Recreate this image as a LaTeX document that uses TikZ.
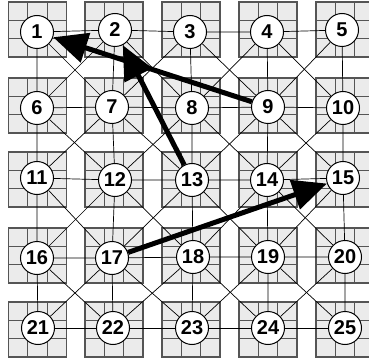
\documentclass[tikz,border=0pt]{standalone}
\usepackage{fontspec}
\setmainfont{Liberation Sans}
\usepackage{color}
\definecolor{light-gray}{RGB}{235,235,235}
\definecolor{dark-gray}{RGB}{85,85,85}
\usepackage{tikz}
\usetikzlibrary{arrows.meta}

\begin{document}
\begin{tikzpicture}
[
  x=1pt, y=-1pt,
  cell/.pic={
    \filldraw[fill=light-gray,draw=dark-gray,line width=1.3pt] (-29,-27.5) rectangle (29,27.5);
    \draw[dark-gray,line width=0.7pt] (-9.7,-27.5) -- (-9.7,27.5) (9.7,-27.5) -- (9.7,27.5)
      (-29,-9.2) -- (29,-9.2) (-29,9.2) -- (29,9.2);
  },
  nd/.style={circle,draw=black,line width=1pt,fill=white,inner sep=0pt,minimum size=33pt,
    font=\fontsize{20}{20}\selectfont\bfseries},
  link/.style={draw=black,line width=0.7pt},
  jump/.style={draw=black,line width=5pt,-{Triangle[length=34pt,width=30pt]}},
]
\clip (0,0) rectangle (369,358);
% the boxes
\pic at (37.5,29.5) {cell};  \pic at (114,29.5) {cell};  \pic at (191,29.5) {cell};
\pic at (268,29.5) {cell};   \pic at (345,29.5) {cell};
\pic at (37.5,105.5) {cell}; \pic at (114,105.5) {cell}; \pic at (191,105.5) {cell};
\pic at (268,105.5) {cell};  \pic at (345,105.5) {cell};
\pic at (37.5,179.5) {cell}; \pic at (114,179.5) {cell}; \pic at (191,179.5) {cell};
\pic at (268,179.5) {cell};  \pic at (345,179.5) {cell};
\pic at (37.5,255.5) {cell}; \pic at (114,255.5) {cell}; \pic at (191,255.5) {cell};
\pic at (268,255.5) {cell};  \pic at (345,255.5) {cell};
\pic at (37.5,329.5) {cell}; \pic at (114,329.5) {cell}; \pic at (191,329.5) {cell};
\pic at (268,329.5) {cell};  \pic at (345,329.5) {cell};

% the nodes
\node[nd] (n1) at (37,32) {1};
\node[nd] (n2) at (115,30) {2};
\node[nd] (n3) at (190,32) {3};
\node[nd] (n4) at (267,32) {4};
\node[nd] (n5) at (342,30) {5};
\node[nd] (n6) at (37,108) {6};
\node[nd] (n7) at (112,107) {7};
\node[nd] (n8) at (192,108) {8};
\node[nd] (n9) at (268,107) {9};
\node[nd] (n10) at (343,108) {10};
\node[nd] (n11) at (37,178) {11};
\node[nd] (n12) at (115,180) {12};
\node[nd] (n13) at (192,180) {13};
\node[nd] (n14) at (267,180) {14};
\node[nd] (n15) at (343,178) {15};
\node[nd] (n16) at (37,258) {16};
\node[nd] (n17) at (112,258) {17};
\node[nd] (n18) at (193,257) {18};
\node[nd] (n19) at (268,257) {19};
\node[nd] (n20) at (345,257) {20};
\node[nd] (n21) at (38,328) {21};
\node[nd] (n22) at (113,328) {22};
\node[nd] (n23) at (192,328) {23};
\node[nd] (n24) at (268,328) {24};
\node[nd] (n25) at (345,328) {25};

% rows and columns
\draw[link] (n1) -- (n2) -- (n3) -- (n4) -- (n5);
\draw[link] (n6) -- (n7) -- (n8) -- (n9) -- (n10);
\draw[link] (n11) -- (n12) -- (n13) -- (n14) -- (n15);
\draw[link] (n16) -- (n17) -- (n18) -- (n19) -- (n20);
\draw[link] (n21) -- (n22) -- (n23) -- (n24) -- (n25);
\draw[link] (n1) -- (n6) -- (n11) -- (n16) -- (n21);
\draw[link] (n2) -- (n7) -- (n12) -- (n17) -- (n22);
\draw[link] (n3) -- (n8) -- (n13) -- (n18) -- (n23);
\draw[link] (n4) -- (n9) -- (n14) -- (n19) -- (n24);
\draw[link] (n5) -- (n10) -- (n15) -- (n20) -- (n25);
% diagonals
\draw[link] (n1) -- (n7) -- (n13) -- (n19) -- (n25);
\draw[link] (n2) -- (n8) -- (n14) -- (n20);
\draw[link] (n3) -- (n9) -- (n15);
\draw[link] (n4) -- (n10);
\draw[link] (n6) -- (n12) -- (n18) -- (n24);
\draw[link] (n11) -- (n17) -- (n23);
\draw[link] (n16) -- (n22);
\draw[link] (n2) -- (n6);
\draw[link] (n3) -- (n7) -- (n11);
\draw[link] (n4) -- (n8) -- (n12) -- (n16);
\draw[link] (n5) -- (n9) -- (n13) -- (n17) -- (n21);
\draw[link] (n10) -- (n14) -- (n18) -- (n22);
\draw[link] (n15) -- (n19) -- (n23);
\draw[link] (n20) -- (n24);

% the moves
\draw[jump] (n9) -- (n1);
\draw[jump] (n13) -- (n2);
\draw[jump] (n17) -- (n15);
\end{tikzpicture}
\end{document}
